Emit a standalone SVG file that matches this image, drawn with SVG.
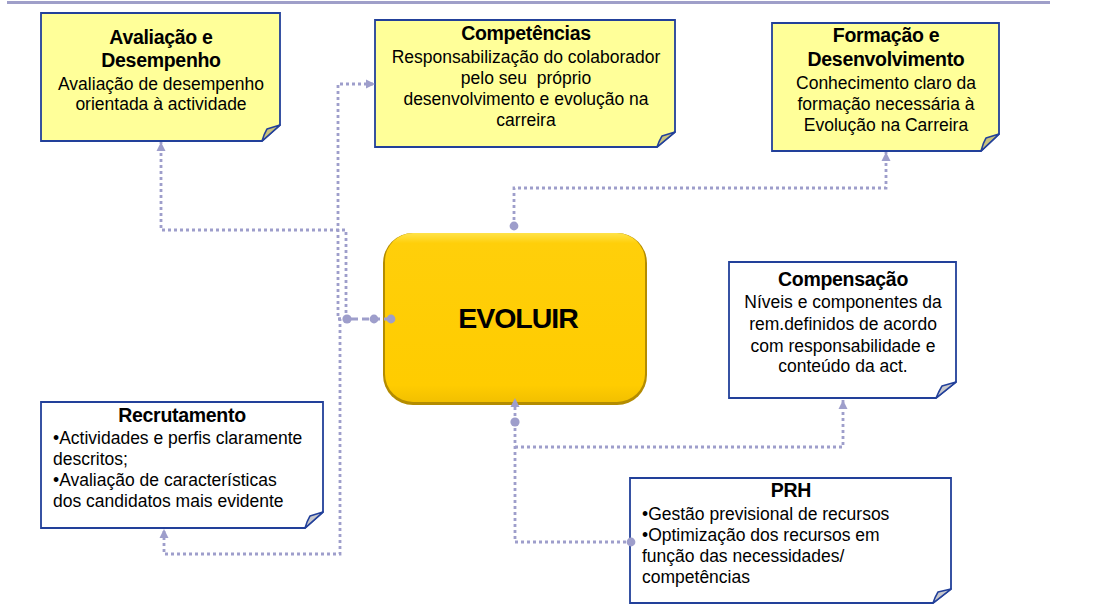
<svg xmlns="http://www.w3.org/2000/svg" width="1100" height="605" viewBox="0 0 1100 605">
  <style>
    .note { stroke: #22409a; stroke-width: 1.8; stroke-linejoin: miter; }
    .yellow { fill: #ffff99; }
    .white { fill: #ffffff; }
    .fold { stroke: #22409a; stroke-width: 1.5; stroke-linejoin: round; }
    .fold-y { fill: #c9c27c; }
    .fold-w { fill: #c8c8cc; }
    .t { font-family: "Liberation Sans", Arial, sans-serif; fill: #000; }
    .h { font-size: 19.5px; font-weight: bold; letter-spacing: -0.3px; }
    .b { font-size: 17.5px; }
    .mid { text-anchor: middle; }
    .link { fill: none; stroke: #9e9ecb; stroke-width: 2.8; stroke-dasharray: 3 3; }
    .stub { fill: none; stroke: #9e9ecb; stroke-width: 2.8; stroke-dasharray: 7 4; }
    .dot { fill: #9e9ecb; }
  </style>
  <defs>
    <marker id="arrow" markerUnits="userSpaceOnUse" markerWidth="10" markerHeight="10" refX="9" refY="5" orient="auto">
      <path d="M0,0.5 L9,5 L0,9.5 Z" fill="#9e9ecb"/>
    </marker>
    <linearGradient id="goldFace" x1="0" y1="0" x2="0" y2="1">
      <stop offset="0" stop-color="#ffe34a"/>
      <stop offset="0.06" stop-color="#ffcf0a"/>
      <stop offset="0.9" stop-color="#ffcc00"/>
      <stop offset="1" stop-color="#f2c000"/>
    </linearGradient>
  </defs>

  <!-- header rule -->
  <line x1="7" y1="2.5" x2="1050" y2="2.5" stroke="#9f9fc9" stroke-width="3"/>

  <!-- Avaliação e Desempenho -->
  <g id="node-avaliacao">
    <path class="note yellow" d="M41,13 H280 V125 L262,141 H41 Z"/>
    <path class="fold fold-y" d="M262,141 L280,125 L267,129 Q264,134 262,141 Z"/>
    <text class="t h mid" x="161" y="44">Avaliação e</text>
    <text class="t h mid" x="161" y="67">Desempenho</text>
    <text class="t b mid" x="161" y="90">Avaliação de desempenho</text>
    <text class="t b mid" x="161" y="110">orientada à actividade</text>
  </g>

  <!-- Competências -->
  <g id="node-competencias">
    <path class="note yellow" d="M375,20 H675 V132 L657,147 H375 Z"/>
    <path class="fold fold-y" d="M657,147 L675,132 L662,136 Q659,141 657,147 Z"/>
    <text class="t h mid" x="526" y="40">Competências</text>
    <text class="t b mid" x="526" y="63">Responsabilização do colaborador</text>
    <text class="t b mid" x="526" y="84" xml:space="preserve">pelo seu  próprio</text>
    <text class="t b mid" x="526" y="105">desenvolvimento e evolução na</text>
    <text class="t b mid" x="526" y="126">carreira</text>
  </g>

  <!-- Formação e Desenvolvimento -->
  <g id="node-formacao">
    <path class="note yellow" d="M772,23 H999 V134 L981,151 H772 Z"/>
    <path class="fold fold-y" d="M981,151 L999,134 L986,138 Q983,143 981,151 Z"/>
    <text class="t h mid" x="886" y="42">Formação e</text>
    <text class="t h mid" x="886" y="66">Desenvolvimento</text>
    <text class="t b mid" x="886" y="89">Conhecimento claro da</text>
    <text class="t b mid" x="886" y="110">formação necessária à</text>
    <text class="t b mid" x="886" y="131">Evolução na Carreira</text>
  </g>

  <!-- EVOLUIR (central node) -->
  <g id="node-evoluir">
    <rect x="383" y="233" width="264" height="172" rx="30" ry="30" fill="#b48c00"/>
    <rect x="385" y="233" width="260" height="169" rx="28" ry="28" fill="url(#goldFace)"/>
    <text class="t mid" x="518" y="328" font-size="28.5" font-weight="bold" letter-spacing="-1">EVOLUIR</text>
  </g>

  <!-- Compensação -->
  <g id="node-compensacao">
    <path class="note white" d="M729,262 H956 V382 L936,398 H729 Z"/>
    <path class="fold fold-w" d="M936,398 L956,382 L942,386 Q939,391 936,398 Z"/>
    <text class="t h mid" x="843" y="286">Compensação</text>
    <text class="t b mid" x="843" y="308">Níveis e componentes da</text>
    <text class="t b mid" x="843" y="330">rem.definidos de acordo</text>
    <text class="t b mid" x="843" y="352">com responsabilidade e</text>
    <text class="t b mid" x="843" y="372">conteúdo da act.</text>
  </g>

  <!-- Recrutamento -->
  <g id="node-recrutamento">
    <path class="note white" d="M41,402 H323 V512 L305,528 H41 Z"/>
    <path class="fold fold-w" d="M305,528 L323,512 L310,516 Q307,521 305,528 Z"/>
    <text class="t h mid" x="182" y="422">Recrutamento</text>
    <text class="t b" x="53" y="444">•Actividades e perfis claramente</text>
    <text class="t b" x="53" y="465">descritos;</text>
    <text class="t b" x="53" y="486">•Avaliação de características</text>
    <text class="t b" x="53" y="507">dos candidatos mais evidente</text>
  </g>

  <!-- PRH -->
  <g id="node-prh">
    <path class="note white" d="M630,478 H951 V589 L933,603 H630 Z"/>
    <path class="fold fold-w" d="M933,603 L951,589 L938,592 Q935,597 933,603 Z"/>
    <text class="t h mid" x="791" y="497">PRH</text>
    <text class="t b" x="642" y="520">•Gestão previsional de recursos</text>
    <text class="t b" x="642" y="541">•Optimização dos recursos em</text>
    <text class="t b" x="642" y="562">função das necessidades/</text>
    <text class="t b" x="642" y="583">competências</text>
  </g>

  <!-- connectors -->
  <g id="connectors">
    <!-- left side of EVOLUIR -->
    <path class="stub" d="M391,319 H347"/>
    <path class="link" d="M347,319 H338 V84 H375" marker-end="url(#arrow)"/>
    <path class="link" d="M346,319 V230 H161 V142" marker-end="url(#arrow)"/>
    <path class="link" d="M347,319 H340 V554 H164 V529" marker-end="url(#arrow)"/>
    <circle class="dot" cx="391" cy="319" r="4.4"/>
    <circle class="dot" cx="374" cy="319" r="4.4"/>
    <circle class="dot" cx="347" cy="319" r="4.6"/>

    <!-- top of EVOLUIR -->
    <path class="link" d="M514,226 V188 H886 V152" marker-end="url(#arrow)"/>
    <circle class="dot" cx="514" cy="226" r="4.4"/>

    <!-- bottom of EVOLUIR -->
    <path class="link" d="M515,422 V398" marker-end="url(#arrow)"/>
    <path class="link" d="M515,422 V542 H631"/>
    <path class="link" d="M515,447 H843 V400" marker-end="url(#arrow)"/>
    <circle class="dot" cx="515" cy="422" r="4.6"/>
    <circle class="dot" cx="631" cy="542" r="4.4"/>
  </g>
</svg>
